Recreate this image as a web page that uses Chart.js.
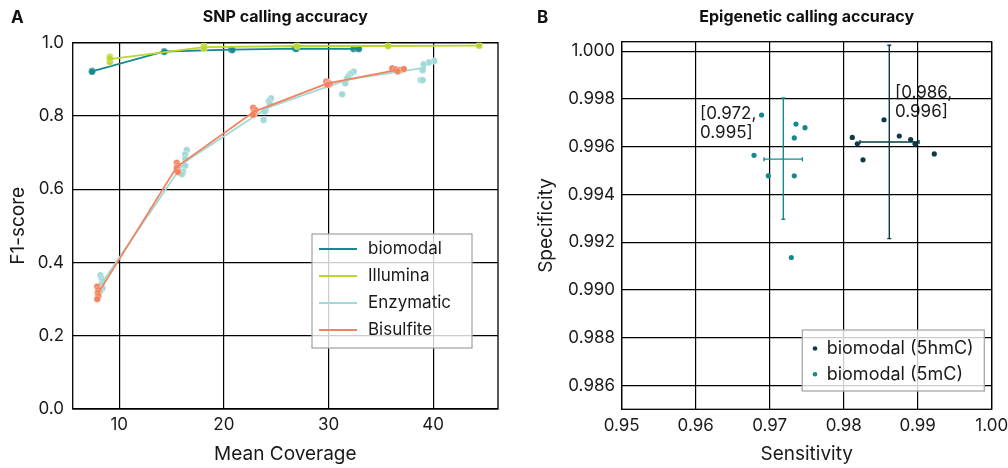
<!DOCTYPE html>
<html>
<head>
<meta charset="utf-8">
<script src="https://cdn.jsdelivr.net/npm/chart.js"></script>
<style>
  html, body { margin: 0; padding: 0; background: #fff; }
  #wrap { position: relative; width: 1008px; height: 468px; overflow: hidden; font-family: Inter, sans-serif; }
  .panel { position: absolute; top: 0; height: 468px; }
  #pa { left: 0; width: 520px; }
  #pb { left: 520px; width: 488px; }
  .letter { position: absolute; top: 9px; font: bold 17px/17px Inter, sans-serif; color: #111; }
</style>
</head>
<body>
<div id="wrap">
  <div class="panel" id="pa"><canvas id="snpChart" width="520" height="468"></canvas></div>
  <div class="panel" id="pb"><canvas id="epiChart" width="488" height="468"></canvas></div>
  <div class="letter" style="left:11px">A</div>
  <div class="letter" style="left:537px">B</div>
</div>
<script>
// ---- panel A: SNP calling accuracy (replicates + mean lines)
const snpXTicks = [10, 20, 30, 40];
const snpYTicks = [0, 0.2, 0.4, 0.6, 0.8, 1.0];

const biomodalCov = [7.4, 7.4, 14.3, 14.3, 20.7, 20.8, 26.8, 26.9, 32.4, 32.7, 32.9];
const biomodalF1  = [0.923, 0.921, 0.976, 0.975, 0.981, 0.980, 0.985, 0.983, 0.983, 0.984, 0.983];
const biomodalMeanCov = [7.4, 14.3, 20.7, 26.9, 32.7];
const biomodalMeanF1  = [0.922, 0.976, 0.981, 0.984, 0.983];

const illuminaCov = [9.1, 9.1, 9.1, 18.1, 18.1, 27.0, 27.0, 35.7, 35.7, 44.4, 44.4];
const illuminaF1  = [0.961, 0.947, 0.957, 0.991, 0.984, 0.993, 0.990, 0.992, 0.991, 0.993, 0.992];
const illuminaMeanCov = [9.1, 18.1, 27.0, 35.7, 44.4];
const illuminaMeanF1  = [0.955, 0.988, 0.991, 0.991, 0.992];

const enzymaticCov = [8.2, 8.3, 8.4, 8.3, 8.4, 8.2,
                      16.45, 16.3, 16.3, 16.3, 16.1, 16.0,
                      24.5, 24.3, 24.4, 24.0, 23.9, 23.8,
                      32.4, 32.1, 31.9, 31.8, 31.6, 31.3,
                      40.1, 39.6, 39.1, 39.0, 38.8, 39.0];
const enzymaticF1  = [0.365, 0.357, 0.350, 0.340, 0.330, 0.322,
                      0.707, 0.695, 0.683, 0.664, 0.648, 0.641,
                      0.848, 0.840, 0.832, 0.815, 0.812, 0.789,
                      0.921, 0.915, 0.908, 0.903, 0.889, 0.859,
                      0.950, 0.946, 0.941, 0.925, 0.898, 0.898];
const enzymaticMeanCov = [8.3, 16.2, 24.2, 31.8, 39.3];
const enzymaticMeanF1  = [0.342, 0.673, 0.823, 0.899, 0.932];

const bisulfiteCov = [7.9, 8.0, 7.95, 8.0, 7.9,
                      15.5, 15.6, 15.5, 15.6,
                      22.8, 23.0, 22.9, 22.8,
                      29.8, 30.0, 30.1, 29.9,
                      36.1, 36.4, 36.8, 37.2, 36.6];
const bisulfiteF1  = [0.334, 0.325, 0.317, 0.309, 0.300,
                      0.672, 0.665, 0.658, 0.647,
                      0.822, 0.816, 0.809, 0.803,
                      0.894, 0.890, 0.887, 0.885,
                      0.930, 0.927, 0.925, 0.928, 0.922];
const bisulfiteMeanCov = [8.0, 15.5, 22.9, 29.9, 36.6];
const bisulfiteMeanF1  = [0.317, 0.661, 0.812, 0.889, 0.926];

// ---- panel B: epigenetic calling accuracy
const epiXTicks = [0.95, 0.96, 0.97, 0.98, 0.99, 1.00];
const epiYTicks = [0.986, 0.988, 0.990, 0.992, 0.994, 0.996, 0.998, 1.000];

const hmcSens = [0.98545, 0.98751, 0.98116, 0.98905, 0.98184, 0.98964, 0.99224, 0.98261];
const hmcSpec = [0.99713, 0.99645, 0.99639, 0.99630, 0.99612, 0.99612, 0.99570, 0.99545];
const mcSens  = [0.96890, 0.97355, 0.97477, 0.97332, 0.96788, 0.96981, 0.97332, 0.97292];
const mcSpec  = [0.99733, 0.99695, 0.99680, 0.99637, 0.99564, 0.99478, 0.99478, 0.99136];

// group summaries: [5hmC, 5mC]
const groupMeanSens = [0.98616, 0.97184];
const groupMeanSpec = [0.99620, 0.99548];
const groupSensLo = [0.98220, 0.96923];
const groupSensHi = [0.99018, 0.97441];
const groupSpecLo = [0.99215, 0.99296];
const groupSpecHi = [1.00025, 0.99804];

// ---- styles
const COL = {
  biomodal: '#168a8e', illumina: '#bdd531', enzymatic: '#a0dad7', bisulfite: '#f4825f',
  hmc: '#0c3a45', mc: '#17898e', text: '#1a1a1a'
};
const FONT = 'Inter, sans-serif';
Chart.defaults.font.family = FONT;
Chart.defaults.color = COL.text;

const pts = (xs, ys) => xs.map((x, i) => ({ x: x, y: ys[i] }));

const frame = {
  id: 'frame',
  beforeDatasetsDraw(chart) {
    const { ctx, chartArea: a } = chart;
    ctx.save();
    ctx.strokeStyle = '#000';
    ctx.lineWidth = 1.3;
    ctx.strokeRect(a.left, a.top, a.right - a.left, a.bottom - a.top);
    ctx.restore();
  }
};

const boxLegend = {
  id: 'boxLegend',
  afterDraw(chart, args, o) {
    const { ctx, chartArea: a } = chart;
    const x = a.right - o.right - o.width;
    const y = a.bottom - o.bottom - o.height;
    ctx.save();
    ctx.fillStyle = 'rgba(255,255,255,0.8)';
    ctx.fillRect(x, y, o.width, o.height);
    ctx.strokeStyle = '#a8a8a8';
    ctx.lineWidth = 1.3;
    ctx.strokeRect(x, y, o.width, o.height);
    ctx.font = o.fontSize + 'px ' + FONT;
    ctx.textBaseline = 'middle';
    chart.data.datasets.filter(d => d.inLegend).forEach((d, i) => {
      const cy = y + o.firstRow + i * o.rowGap;
      if (o.marker === 'line') {
        ctx.strokeStyle = d.borderColor;
        ctx.lineWidth = 2;
        ctx.beginPath();
        ctx.moveTo(x + 7, cy);
        ctx.lineTo(x + 45, cy);
        ctx.stroke();
      } else {
        ctx.fillStyle = d.backgroundColor;
        ctx.beginPath();
        ctx.arc(x + 12.7, cy, 2.3, 0, Math.PI * 2);
        ctx.fill();
      }
      ctx.fillStyle = COL.text;
      ctx.fillText(d.label, x + o.textX, cy);
    });
    ctx.restore();
  }
};

function tickAxis(list, fixed, pad, extra) {
  return Object.assign({
    type: 'linear',
    afterBuildTicks: s => { s.ticks = list.map(v => ({ value: v })); },
    grid: { color: '#000', lineWidth: 1.2, drawTicks: false },
    border: { display: false },
    ticks: { autoSkip: false, maxRotation: 0, padding: pad, font: { size: 17 }, color: COL.text,
             callback: v => Number(v).toFixed(fixed) }
  }, extra);
}

// ---- chart A
new Chart(document.getElementById('snpChart'), {
  type: 'scatter',
  data: {
    datasets: [
      { label: 'biomodal', inLegend: true, showLine: true, data: pts(biomodalMeanCov, biomodalMeanF1),
        borderColor: COL.biomodal, borderWidth: 1.8, pointRadius: 0, order: 7 },
      { data: pts(biomodalCov, biomodalF1), backgroundColor: COL.biomodal,
        borderColor: 'rgba(255,255,255,0.6)', borderWidth: 0.6, pointRadius: 3.4, order: 8 },
      { label: 'Illumina', inLegend: true, showLine: true, data: pts(illuminaMeanCov, illuminaMeanF1),
        borderColor: COL.illumina, borderWidth: 1.8, pointRadius: 0, order: 5 },
      { data: pts(illuminaCov, illuminaF1), backgroundColor: COL.illumina,
        borderColor: 'rgba(255,255,255,0.6)', borderWidth: 0.6, pointRadius: 3.4, order: 6 },
      { label: 'Enzymatic', inLegend: true, showLine: true, data: pts(enzymaticMeanCov, enzymaticMeanF1),
        borderColor: COL.enzymatic, borderWidth: 1.8, pointRadius: 0, order: 3 },
      { data: pts(enzymaticCov, enzymaticF1), backgroundColor: COL.enzymatic,
        borderColor: 'rgba(255,255,255,0.6)', borderWidth: 0.6, pointRadius: 3.4, order: 4 },
      { label: 'Bisulfite', inLegend: true, showLine: true, data: pts(bisulfiteMeanCov, bisulfiteMeanF1),
        borderColor: COL.bisulfite, borderWidth: 1.8, pointRadius: 0, order: 1 },
      { data: pts(bisulfiteCov, bisulfiteF1), backgroundColor: COL.bisulfite,
        borderColor: 'rgba(255,255,255,0.6)', borderWidth: 0.6, pointRadius: 3.4, order: 2 }
    ]
  },
  options: {
    responsive: false,
    animation: false,
    layout: { padding: { left: 0, right: 22, top: 0, bottom: 0 } },
    plugins: {
      legend: { display: false },
      tooltip: { enabled: false },
      title: { display: true, text: 'SNP calling accuracy', fullSize: false, color: '#111',
               font: { size: 16, weight: 'bold' }, padding: { top: 7.5, bottom: 16 } },
      boxLegend: { marker: 'line', fontSize: 17, right: 26, bottom: 61, width: 160, height: 114,
                   firstRow: 15, rowGap: 27, textX: 56 }
    },
    scales: {
      x: tickAxis(snpXTicks, 0, 6, {
        min: 5.55, max: 46.2,
        afterFit: s => { s.height = 59; s.paddingLeft = 0; s.paddingRight = 0; },
        title: { display: true, text: 'Mean Coverage', font: { size: 19 }, color: COL.text,
                 padding: { top: 0, bottom: 2.5 } }
      }),
      y: tickAxis(snpYTicks, 1, 8.7, {
        min: 0, max: 1,
        afterFit: s => { s.width = 72.7; s.paddingTop = 0; s.paddingBottom = 0; },
        title: { display: true, text: 'F1-score', font: { size: 19 }, color: COL.text,
                 padding: { top: 7, bottom: 0 } }
      })
    }
  },
  plugins: [frame, boxLegend]
});

// ---- chart B
const errBars = {
  id: 'errBars',
  afterDatasetsDraw(chart, args, o) {
    const { ctx } = chart;
    const xs = chart.scales.x, ys = chart.scales.y;
    ctx.save();
    ctx.lineWidth = 1.4;
    groupMeanSens.forEach((m, i) => {
      const cx = xs.getPixelForValue(m), cy = ys.getPixelForValue(groupMeanSpec[i]);
      const x0 = xs.getPixelForValue(groupSensLo[i]), x1 = xs.getPixelForValue(groupSensHi[i]);
      const y0 = ys.getPixelForValue(groupSpecLo[i]), y1 = ys.getPixelForValue(groupSpecHi[i]);
      ctx.strokeStyle = o.colors[i];
      ctx.beginPath();
      ctx.moveTo(x0, cy); ctx.lineTo(x1, cy);
      ctx.moveTo(cx, y0); ctx.lineTo(cx, y1);
      ctx.moveTo(x0, cy - 2); ctx.lineTo(x0, cy + 2);
      ctx.moveTo(x1, cy - 2); ctx.lineTo(x1, cy + 2);
      ctx.moveTo(cx - 2, y0); ctx.lineTo(cx + 2, y0);
      ctx.moveTo(cx - 2, y1); ctx.lineTo(cx + 2, y1);
      ctx.stroke();
      // annotation with the mean values
      const off = o.labelOffsets[i];
      ctx.fillStyle = COL.text;
      ctx.font = '17px ' + FONT;
      ctx.textBaseline = 'middle';
      ctx.textAlign = 'left';
      ctx.fillText('[' + m.toFixed(3) + ',', cx + off[0], cy + off[1]);
      ctx.fillText(groupMeanSpec[i].toFixed(3) + ']', cx + off[0], cy + off[1] + 19);
    });
    ctx.restore();
  }
};

new Chart(document.getElementById('epiChart'), {
  type: 'scatter',
  data: {
    datasets: [
      { label: 'biomodal (5hmC)', inLegend: true, data: pts(hmcSens, hmcSpec),
        backgroundColor: COL.hmc, borderWidth: 0, pointRadius: 2.6 },
      { label: 'biomodal (5mC)', inLegend: true, data: pts(mcSens, mcSpec),
        backgroundColor: COL.mc, borderWidth: 0, pointRadius: 2.6 }
    ]
  },
  options: {
    responsive: false,
    animation: false,
    layout: { padding: { left: 0, right: 16.3, top: 0, bottom: 0 } },
    plugins: {
      legend: { display: false },
      tooltip: { enabled: false },
      title: { display: true, text: 'Epigenetic calling accuracy', fullSize: false, color: '#111',
               font: { size: 16, weight: 'bold' }, padding: { top: 7.5, bottom: 15 } },
      boxLegend: { marker: 'dot', fontSize: 18, right: 7.4, bottom: 18.3, width: 182, height: 61,
                   firstRow: 18.5, rowGap: 25.7, textX: 24.4 },
      errBars: { colors: [COL.hmc, COL.mc], labelOffsets: [[5.7, -49.3], [-83.3, -45]] }
    },
    scales: {
      x: tickAxis(epiXTicks, 2, 6, {
        min: 0.95, max: 1.0,
        afterFit: s => { s.height = 58.7; s.paddingLeft = 0; s.paddingRight = 0; },
        title: { display: true, text: 'Sensitivity', font: { size: 19 }, color: COL.text,
                 padding: { top: 0, bottom: 2.5 } }
      }),
      y: tickAxis(epiYTicks, 3, 6.7, {
        min: 0.985, max: 1.0004,
        afterFit: s => { s.width = 101.7; s.paddingTop = 0; s.paddingBottom = 0; },
        title: { display: true, text: 'Specificity', font: { size: 19 }, color: COL.text,
                 padding: { top: 14.6, bottom: 0 } }
      })
    }
  },
  plugins: [frame, boxLegend, errBars]
});
</script>
</body>
</html>
